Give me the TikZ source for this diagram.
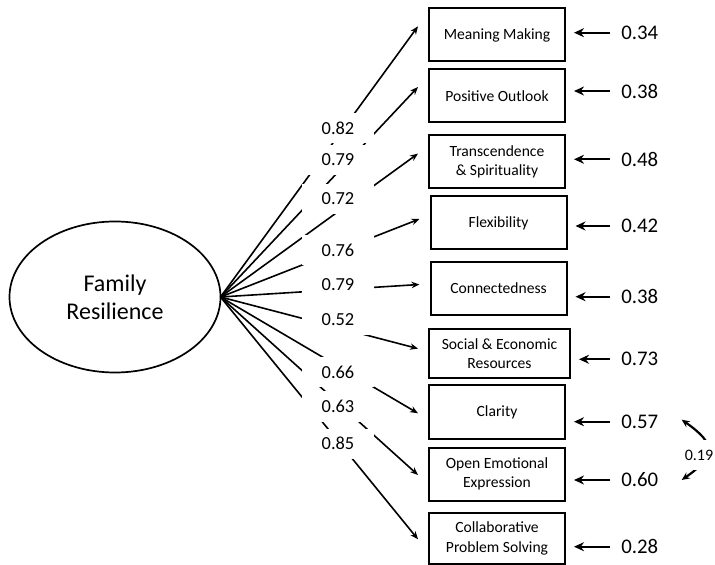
\documentclass[tikz,border=0pt]{standalone}
\usepackage{fontspec}
\setmainfont{Carlito}
\usetikzlibrary{arrows.meta,calc,shapes.geometric}

\begin{document}
\begin{tikzpicture}[x=0.5pt,y=-0.5pt,
    box/.style={draw,line width=1pt,minimum width=68pt,minimum height=26.5pt,
      inner sep=1pt,align=center,font=\fontsize{7.8}{9.6}\selectfont},
    load/.style={line width=0.8pt,-{Stealth[length=4pt,width=3.2pt]}},
    err/.style={line width=1.1pt,-{Stealth[length=5pt,width=4.5pt]}},
    lbl/.style={fill=white,minimum width=36pt,minimum height=15pt,inner sep=0pt,
      font=\fontsize{9.2}{11}\selectfont},
    res/.style={anchor=west,inner sep=5.5pt,font=\fontsize{10.4}{12}\selectfont}]
    \useasboundingbox (0,0) rectangle (715,565);

    % Latent factor
    \node[draw,ellipse,line width=0.85pt,minimum width=105.5pt,minimum height=75.5pt,
      inner sep=0pt,outer sep=0pt,align=center,font=\fontsize{12}{14}\selectfont]
      (fr) at (115,297) {Family\\Resilience};

    % Indicator boxes
    \node[box] (mm) at (497,35) {Meaning Making};
    \node[box] (po) at (497,96) {Positive Outlook};
    \node[box] (ts) at (497,162) {Transcendence\\\& Spirituality};
    \node[box] (fl) at (498.5,223) {Flexibility};
    \node[box] (co) at (498.5,288.5) {Connectedness};
    \node[box,minimum width=70.5pt,minimum height=24.5pt] (se) at (499.5,354) {Social \& Economic\\Resources};
    \node[box] (cl) at (497,412) {Clarity};
    \node[box] (oe) at (497,474) {Open Emotional\\Expression};
    \node[box,minimum height=25.5pt] (cp) at (497,538.5) {Collaborative\\Problem Solving};

    % Loadings: lines from the factor, labels drawn on top
    \foreach \b/\dy in {mm/-8.7,po/-9,ts/-8.4,fl/-4,co/-4,se/-5.4,cl/1.3,oe/1,cp/0.8}
      \draw[load] (fr.east) -- ($(\b.west)+(-10,\dy)$);
    \foreach \y/\v [count=\k] in {128/0.82,160/0.79,199/0.72,250/0.76,284.5/0.79,
                                  320/0.52,372.5/0.66,406.5/0.63,443.5/0.85}
      \node[lbl] (l\k) at (338,\y) {\v};

    % Residual variances
    \foreach \b/\y/\v [count=\k] in {mm/32.7/0.34,po/91/0.38,ts/159.3/0.48,fl/226/0.42,
                                     co/296.7/0.38,se/359.3/0.73,cl/421.7/0.57,
                                     oe/480/0.60,cp/546.7/0.28} {
      \node[res] (e\k) at (610,\y) {\v};
      \draw[err] (e\k.west) -- ($(e\k.west -| \b.east)+(8,0)$);
    }

    % Residual covariance
    \draw[line width=1.1pt,{Stealth[length=4pt,width=3.5pt]}-{Stealth[length=4pt,width=3.5pt]}]
      ($(e7.east)+(12,-2)$) to[out=-35,in=35,looseness=1.8] ($(e8.east)+(12,0)$);
    \node[fill=white,inner sep=2pt,minimum height=15pt,font=\fontsize{8}{10}\selectfont]
      (cv) at (699,455) {0.19};
\end{tikzpicture}
\end{document}
